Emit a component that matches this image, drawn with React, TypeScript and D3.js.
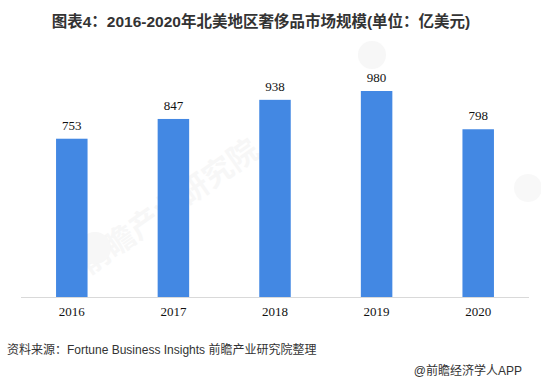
import React from "react";
import * as d3 from "d3";

const years = ["2016", "2017", "2018", "2019", "2020"];
const values = [753, 847, 938, 980, 798];
const titleText = "图表4：2016-2020年北美地区奢侈品市场规模(单位：亿美元)";
const sourceText = "资料来源：Fortune Business Insights 前瞻产业研究院整理";
const creditText = "@前瞻经济学人APP";

const W = 541;
const H = 383;
const margin = { left: 21, right: 12, top: 45, bottom: 86 };

export default function App() {
  const x = d3
    .scaleBand<string>()
    .domain(years)
    .range([margin.left, W - margin.right])
    .paddingInner(0.69)
    .paddingOuter(0.345);
  const baseY = 297;
  const y = d3.scaleLinear().domain([0, 1000]).range([baseY, baseY - 210.2]);
  const sans = "'Liberation Sans', 'Noto Sans CJK SC', sans-serif";

  return (
    <svg
      width={W}
      height={H}
      style={{ position: "absolute", left: 0, top: 0, background: "#fff" }}
    >
      {/* watermark */}
      <g opacity={0.045} fill="#555">
        <text
          x={175}
          y={215}
          transform="rotate(-35 175 215)"
          fontFamily="'Noto Sans CJK SC', sans-serif"
          fontWeight="bold"
          fontSize={30}
          textAnchor="middle"
        >
          前瞻产业研究院
        </text>
        <circle cx={95} cy={248} r={16} />
        <circle cx={372} cy={55} r={14} />
        <circle cx={528} cy={188} r={14} />
      </g>

      <text
        x={261}
        y={27}
        textAnchor="middle"
        fontFamily={sans}
        fontWeight="bold"
        fontSize={15.5}
        fill="#333"
      >
        {titleText}
      </text>

      {years.map((yr, i) => (
        <g key={yr}>
          <rect
            x={x(yr)!}
            y={y(values[i])}
            width={x.bandwidth()}
            height={baseY - y(values[i])}
            fill="#4388e3"
          />
          <text
            x={x(yr)! + x.bandwidth() / 2}
            y={y(values[i]) - 9}
            textAnchor="middle"
            fontFamily="'Liberation Serif', serif"
            fontSize={13}
            fill="#111"
          >
            {values[i]}
          </text>
          <text
            x={x(yr)! + x.bandwidth() / 2}
            y={316}
            textAnchor="middle"
            fontFamily="'Liberation Serif', serif"
            fontSize={13}
            fill="#111"
          >
            {yr}
          </text>
        </g>
      ))}

      <line
        x1={margin.left}
        x2={W - margin.right}
        y1={baseY + 0.5}
        y2={baseY + 0.5}
        stroke="#d9d9d9"
        strokeWidth={1}
      />

      <text x={7} y={354} fontFamily={sans} fontSize={12} fill="#333">
        {sourceText}
      </text>
      <text
        x={522}
        y={375}
        textAnchor="end"
        fontFamily={sans}
        fontSize={12}
        fill="#333"
      >
        {creditText}
      </text>
    </svg>
  );
}
